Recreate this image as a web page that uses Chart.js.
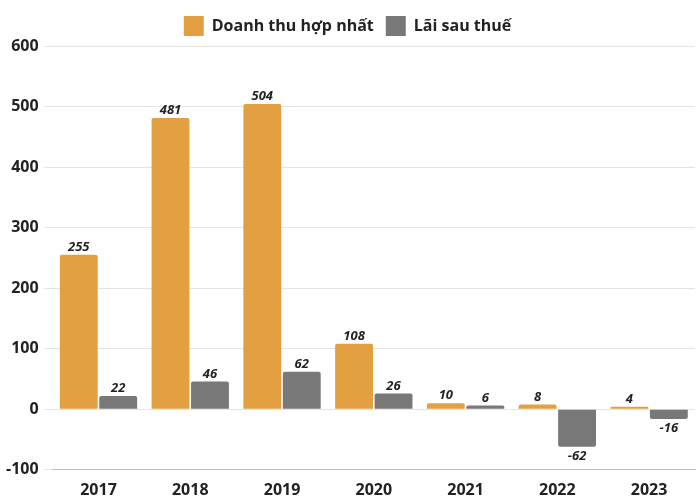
<!DOCTYPE html>
<html lang="vi">
<head>
<meta charset="UTF-8">
<script src="https://cdn.jsdelivr.net/npm/chart.js"></script>
<style>
  body { margin: 0; background: #fff; }
  #wrap { width: 700px; height: 503px; }
</style>
</head>
<body>
<div id="wrap"><canvas id="chart"></canvas></div>
<script>
const years = ["2017", "2018", "2019", "2020", "2021", "2022", "2023"];
const revenue = [255, 481, 504, 108, 10, 8, 4];
const profit = [22, 46, 62, 26, 6, -62, -16];
const yTicks = [-100, 0, 100, 200, 300, 400, 500, 600];

// Draw value labels above (or below for negatives) each bar
const valueLabels = {
  id: "valueLabels",
  afterDatasetsDraw(chart) {
    const ctx = chart.ctx;
    ctx.save();
    ctx.font = "italic bold 13px 'Open Sans'";
    ctx.fillStyle = "#222";
    ctx.textAlign = "center";
    chart.data.datasets.forEach((ds, i) => {
      chart.getDatasetMeta(i).data.forEach((bar, j) => {
        const v = ds.data[j];
        if (v >= 0) {
          ctx.textBaseline = "bottom";
          ctx.fillText(v, bar.x, bar.y - 1);
        } else {
          ctx.textBaseline = "top";
          ctx.fillText(v, bar.x, bar.y + 3);
        }
      });
    });
    ctx.restore();
  }
};

new Chart(document.getElementById("chart"), {
  type: "bar",
  data: {
    labels: years,
    datasets: [
      { label: "Doanh thu hợp nhất", data: revenue, backgroundColor: "#E3A040", borderRadius: 2 },
      { label: "Lãi sau thuế", data: profit, backgroundColor: "#787878", borderRadius: 2 }
    ]
  },
  options: {
    responsive: true,
    maintainAspectRatio: false,
    animation: false,
    layout: { padding: { left: 0, right: 5, bottom: 0, top: 4 } },
    datasets: { bar: { categoryPercentage: 0.86, barPercentage: 0.96 } },
    scales: {
      x: {
        grid: { display: false },
        border: { color: "#bbb" },
        ticks: { color: "#222", font: { family: "Open Sans", weight: "bold", size: 16 } }
      },
      y: {
        min: -100,
        max: 600,
        afterBuildTicks(axis) { axis.ticks = yTicks.map(v => ({ value: v })); },
        grid: { color: "#e3e3e3" },
        border: { display: false },
        ticks: { color: "#222", padding: 6, font: { family: "Open Sans", weight: "bold", size: 16 } }
      }
    },
    plugins: {
      tooltip: { enabled: false },
      legend: {
        position: "top",
        labels: {
          color: "#222",
          boxWidth: 20,
          boxHeight: 20,
          padding: 12,
          font: { family: "Open Sans", weight: "bold", size: 16 }
        }
      }
    }
  },
  plugins: [valueLabels]
});
</script>
</body>
</html>
